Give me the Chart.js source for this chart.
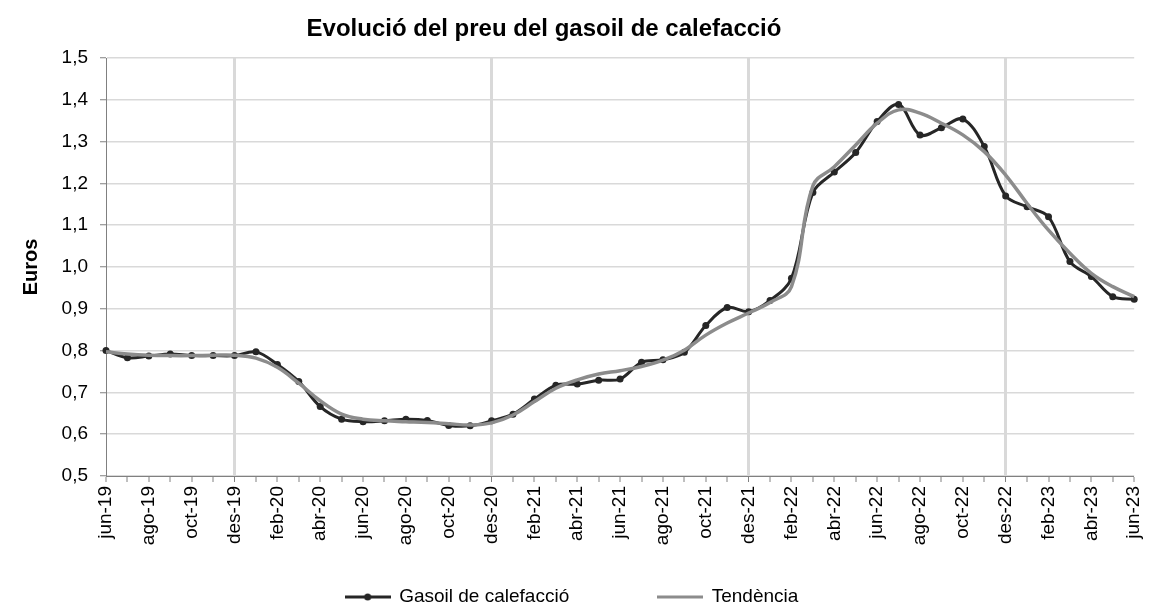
<!DOCTYPE html>
<html>
<head>
<meta charset="utf-8">
<script src="https://cdn.jsdelivr.net/npm/chart.js@4.4.0/dist/chart.umd.min.js"></script>
<style>
  html, body { margin: 0; padding: 0; background: #fff; }
</style>
</head>
<body>
<canvas id="gasoilChart" width="1161" height="610"></canvas>
<script>
const chartTitle = "Evolució del preu del gasoil de calefacció";

const months = [
  "jun-19", "jul-19", "ago-19", "set-19", "oct-19", "nov-19", "des-19",
  "gen-20", "feb-20", "mar-20", "abr-20", "mai-20", "jun-20", "jul-20", "ago-20", "set-20", "oct-20", "nov-20", "des-20",
  "gen-21", "feb-21", "mar-21", "abr-21", "mai-21", "jun-21", "jul-21", "ago-21", "set-21", "oct-21", "nov-21", "des-21",
  "gen-22", "feb-22", "mar-22", "abr-22", "mai-22", "jun-22", "jul-22", "ago-22", "set-22", "oct-22", "nov-22", "des-22",
  "gen-23", "feb-23", "mar-23", "abr-23", "mai-23", "jun-23"
];

const gasoilPrice = [
  0.800, 0.783, 0.787, 0.792, 0.788, 0.788, 0.788,
  0.797, 0.767, 0.726, 0.666, 0.636, 0.630, 0.632, 0.636, 0.633, 0.621, 0.620, 0.632,
  0.648, 0.684, 0.717, 0.720, 0.729, 0.732, 0.772, 0.778, 0.796, 0.860, 0.903, 0.893,
  0.920, 0.973, 1.178, 1.227, 1.274, 1.348, 1.389, 1.316, 1.333, 1.354, 1.288, 1.170,
  1.144, 1.120, 1.013, 0.977, 0.929, 0.923
];

const trendPrice = [
  0.797, 0.792, 0.789, 0.788, 0.788, 0.789, 0.789,
  0.782, 0.760, 0.722, 0.680, 0.648, 0.636, 0.632, 0.630, 0.628, 0.625, 0.622, 0.627,
  0.646, 0.678, 0.710, 0.730, 0.744, 0.752, 0.762, 0.777, 0.801, 0.837, 0.866, 0.890,
  0.915, 0.953, 1.194, 1.240, 1.292, 1.344, 1.376, 1.368, 1.344, 1.316, 1.276, 1.220,
  1.152, 1.088, 1.033, 0.985, 0.953, 0.929
];

const seriesNames = ["Gasoil de calefacció", "Tendència"];
const yMin = 0.5, yMax = 1.5, yStep = 0.1;

const fontFamily = '"Liberation Sans", Arial, sans-serif';
const dataColor = "#262626";
const trendColor = "#8c8c8c";

// vertical lines only at december
const decIdx = months.map((m, i) => m.startsWith("des") ? i : -1).filter(i => i >= 0);

function legendMarker(color, dot) {
  const c = document.createElement("canvas");
  c.width = 46; c.height = 12;
  const g = c.getContext("2d");
  g.strokeStyle = color;
  g.lineWidth = 3;
  g.beginPath(); g.moveTo(0, 6); g.lineTo(46, 6); g.stroke();
  if (dot) {
    g.fillStyle = color;
    g.beginPath(); g.arc(23, 6, 3.5, 0, Math.PI * 2); g.fill();
  }
  return c;
}
const markers = [legendMarker(dataColor, true), legendMarker(trendColor, false)];

const titlePlugin = {
  id: "titleText",
  afterDraw(chart) {
    const ctx = chart.ctx;
    ctx.save();
    ctx.font = "bold 24px " + fontFamily;
    ctx.fillStyle = "#000";
    ctx.textAlign = "center";
    ctx.textBaseline = "middle";
    ctx.fillText(chartTitle, 544, 29);
    ctx.restore();
  }
};

const ctx = document.getElementById("gasoilChart").getContext("2d");
const chart = new Chart(ctx, {
  type: "line",
  data: {
    labels: months,
    datasets: [
      {
        label: seriesNames[0],
        data: gasoilPrice,
        borderColor: dataColor,
        backgroundColor: dataColor,
        borderWidth: 3,
        pointRadius: 3.5,
        pointBorderWidth: 0,
        pointBackgroundColor: dataColor,
        tension: 0.35,
        order: 1
      },
      {
        label: seriesNames[1],
        data: trendPrice,
        borderColor: trendColor,
        backgroundColor: trendColor,
        borderWidth: 3.5,
        pointRadius: 0,
        tension: 0.4,
        order: 0
      }
    ]
  },
  options: {
    responsive: false,
    animation: false,
    layout: { padding: { top: 58, right: 17, bottom: -6.5, left: 0 } },
    plugins: {
      title: { display: false },
      tooltip: { enabled: false },
      legend: {
        position: "bottom",
        // the wide gap between items comes from labels.padding; the empty
        // legend title with negative padding pulls the row back up
        title: {
          display: true,
          text: "",
          font: { size: 10 },
          padding: { top: -36, bottom: -35.5 }
        },
        labels: {
          usePointStyle: true,
          pointStyleWidth: 44,
          padding: 89,
          color: "#000",
          font: { size: 19, family: fontFamily },
          generateLabels: chart => chart.data.datasets.map((ds, i) => ({
            text: ds.label,
            pointStyle: markers[i],
            fillStyle: ds.borderColor,
            strokeStyle: ds.borderColor,
            lineWidth: 0,
            hidden: false,
            datasetIndex: i,
            fontColor: "#000"
          }))
        }
      }
    },
    scales: {
      x: {
        afterFit: scale => { scale.height = 82; },
        border: { color: "#808080", width: 1 },
        grid: {
          color: c => decIdx.includes(c.index) ? "#d9d9d9" : "rgba(0,0,0,0)",
          lineWidth: c => decIdx.includes(c.index) ? 3 : 0,
          tickLength: 6,
          tickColor: "#808080",
          tickWidth: 1
        },
        ticks: {
          autoSkip: false,
          minRotation: 90,
          maxRotation: 90,
          padding: 4,
          color: "#000",
          font: { size: 19, family: fontFamily },
          callback: (v, i) => i % 2 === 0 ? months[i] : ""
        }
      },
      y: {
        min: yMin,
        max: yMax,
        afterFit: scale => { scale.width = 106; },
        border: { color: "#808080", width: 1 },
        grid: {
          color: "#d9d9d9",
          lineWidth: 1.5,
          tickLength: 6,
          tickColor: "#808080",
          tickWidth: 1
        },
        ticks: {
          stepSize: yStep,
          padding: 12,
          color: "#000",
          font: { size: 19, family: fontFamily },
          callback: v => v.toFixed(1).replace(".", ",")
        },
        title: {
          display: true,
          text: "Euros",
          color: "#000",
          font: { size: 20, weight: "bold", family: fontFamily },
          padding: { top: 19, bottom: 0 }
        }
      }
    }
  },
  plugins: [titlePlugin]
});
</script>
</body>
</html>
